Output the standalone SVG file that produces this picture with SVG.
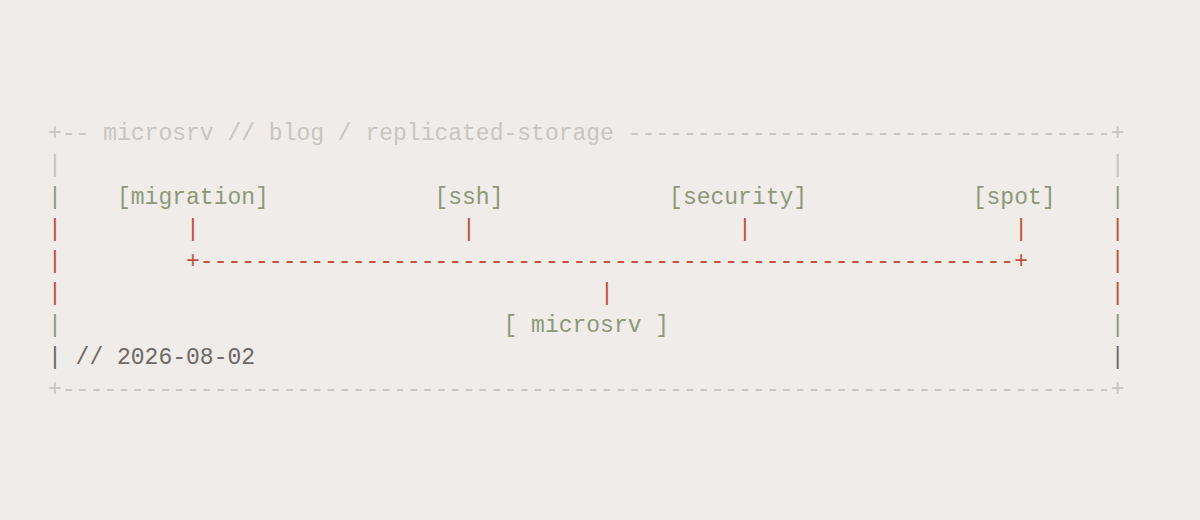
<svg xmlns="http://www.w3.org/2000/svg" width="1200" height="520" viewBox="0 0 1200 520">
<style>
text{font-family:"Liberation Mono","DejaVu Sans Mono",monospace;font-size:23px;white-space:pre}
.l{fill:#c9c5c1}.g{fill:#8a9a78}.r{fill:#c0503a}.d{fill:#6e6864}
</style>
<rect width="1200" height="520" fill="#f0ece9"/>
<g id="frame">
<text class="l" x="48" y="140" xml:space="preserve">+-- microsrv // blog / replicated-storage -----------------------------------+</text>
<text class="l" x="48" y="172" xml:space="preserve">|                                                                            |</text>
<text class="d" x="48" y="364" xml:space="preserve">| // 2026-08-02                                                              |</text>
<text class="l" x="48" y="396" xml:space="preserve">+----------------------------------------------------------------------------+</text>
</g>
<g id="nodes">
<text class="g" x="48" y="204" xml:space="preserve">|    [migration]            [ssh]            [security]            [spot]    |</text>
<text class="g" x="48" y="332" xml:space="preserve">|                                [ microsrv ]                                |</text>
</g>
<g id="connectors">
<text class="r" x="48" y="236" xml:space="preserve">|         |                   |                   |                   |      |</text>
<text class="r" x="48" y="268" xml:space="preserve">|         +-----------------------------------------------------------+      |</text>
<text class="r" x="48" y="300" xml:space="preserve">|                                       |                                    |</text>
</g>
</svg>
